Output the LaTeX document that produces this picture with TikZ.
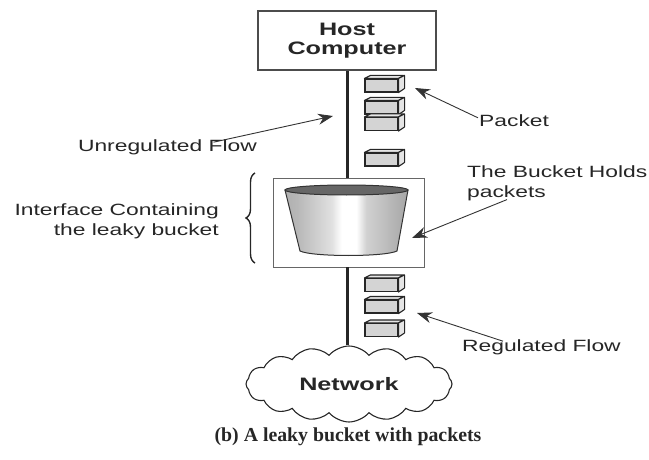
\documentclass[tikz,border=0pt]{standalone}
\usepackage{fontspec}
\setmainfont{Liberation Serif}
\newfontfamily\labfont[FakeStretch=1.4]{Liberation Sans}
\usetikzlibrary{arrows.meta,shapes.symbols,decorations.pathreplacing}

% grey bands across the bucket wall
\pgfdeclarehorizontalshading{bucketwall}{100bp}{%
  color(0bp)=(black!55); color(12bp)=(black!40); color(30bp)=(black!28);
  color(44bp)=(black!12); color(48bp)=(white); color(54bp)=(white);
  color(58bp)=(black!18); color(75bp)=(black!35); color(90bp)=(black!45);
  color(100bp)=(black!60)}

% top and side faces of a packet drawn beside its front face
\newcommand\pktfaces[1]{%
  \draw[pktface] (#1.north west) -- ++(6,-3) -- ++(33,0) -- (#1.north east) -- cycle;
  \draw[pktface] (#1.north east) -- ++(6,-3) -- ++(0,13) -- (#1.south east) -- cycle;}

\begin{document}
\begin{tikzpicture}[x=1pt,y=-1pt,
  lab/.style={font=\labfont\fontsize{16.3}{20}\selectfont, text=black!85, inner sep=0pt},
  boldlab/.style={font=\labfont\bfseries\fontsize{18}{19}\selectfont, text=black!85},
  pointer/.style={draw=black!80, line width=0.9pt, -{Stealth[length=15pt,width=11pt]}},
  wire/.style={line width=3pt, draw=black!85},
  pkt/.style={rectangle, draw=black!85, line width=1.1pt, fill=black!17,
    minimum width=33pt, minimum height=13pt, inner sep=0pt},
  pktface/.style={draw=black!85, line width=1.1pt, fill=black!10, line join=round},
  framebox/.style={rectangle, inner sep=0pt, fill=white},
]
\useasboundingbox (0,0) rectangle (649,460);

% host, interface and network
\node[framebox, boldlab, draw=black!70, line width=1.6pt, minimum width=178pt,
  minimum height=59pt, align=center] (host) at (347,40.5) {Host\\Computer};
\node[framebox, draw=black!60, line width=0.9pt, minimum width=151pt,
  minimum height=89pt] (bbox) at (348.5,222.5) {};
\node[cloud, draw=black!85, line width=1.1pt, cloud puffs=16, cloud puff arc=100,
  aspect=2.7, minimum width=206pt, minimum height=76pt, boldlab,
  inner sep=0pt] (net) at (349,384) {Network};

% links
\draw[wire] (host.south) -- (host.south |- bbox.north);
\draw[wire] (bbox.south -| 347,0) -- (347,0 |- net.north);

% leaky bucket
\shade[shading=bucketwall, draw=black!80, line width=1pt]
  (285,190) -- (300,251) .. controls (312,257) and (385,257) .. (397,251) -- (408,190) -- cycle;
\draw[fill=black!60, draw=black!80, line width=1pt] (346.5,190) ellipse [x radius=61.5, y radius=5];

% packets
\node[pkt] (p1) at (381.5,85.5) {};
\node[pkt] (p2) at (381.5,107.5) {};
\node[pkt] (p3) at (381.5,124) {};
\node[pkt] (p4) at (381.5,159.5) {};
\node[pkt] (p5) at (381.5,285) {};
\node[pkt] (p6) at (381.5,306.5) {};
\node[pkt] (p7) at (381.5,330) {};
\foreach \p in {p1,p2,p3,p4,p5,p6,p7} {\pktfaces{\p}}

% labels
\node[lab] (ulab) at (167.5,147) {Unregulated Flow};
\node[lab, anchor=east, align=right] (ilab) at (219,221) {Interface Containing\\the leaky bucket};
\node[lab, anchor=west] (plab) at (479,121) {Packet};
\node[lab, anchor=north west, align=left] (hlab) at (467,165) {The Bucket Holds\\packets};
\node[lab, anchor=west] (rlab) at (462,347) {Regulated Flow};

% pointer targets
\coordinate (ut) at (333,116);
\coordinate (pt) at (415,88);
\coordinate (ht) at (412,238);
\coordinate (rt) at (417,313);

\draw[pointer] ([xshift=46pt,yshift=-3pt]ulab.north) -- (ut);
\draw[pointer] ([xshift=-1pt,yshift=-3pt]plab.north west) -- (pt);
\draw[pointer] ([xshift=40pt,yshift=1pt]hlab.south west) -- (ht);
\draw[pointer] ([xshift=41pt,yshift=-2pt]rlab.north west) -- (rt);

% brace around the interface
\draw[draw=black!85, line width=1.4pt, decorate, decoration={brace, amplitude=9pt}]
  (255,263) -- (255,173);

% caption
\node[font=\bfseries\fontsize{19.8}{23}\selectfont, text=black!85] (cap) at (348,437)
  {(b) A leaky bucket with packets};
\end{tikzpicture}
\end{document}
